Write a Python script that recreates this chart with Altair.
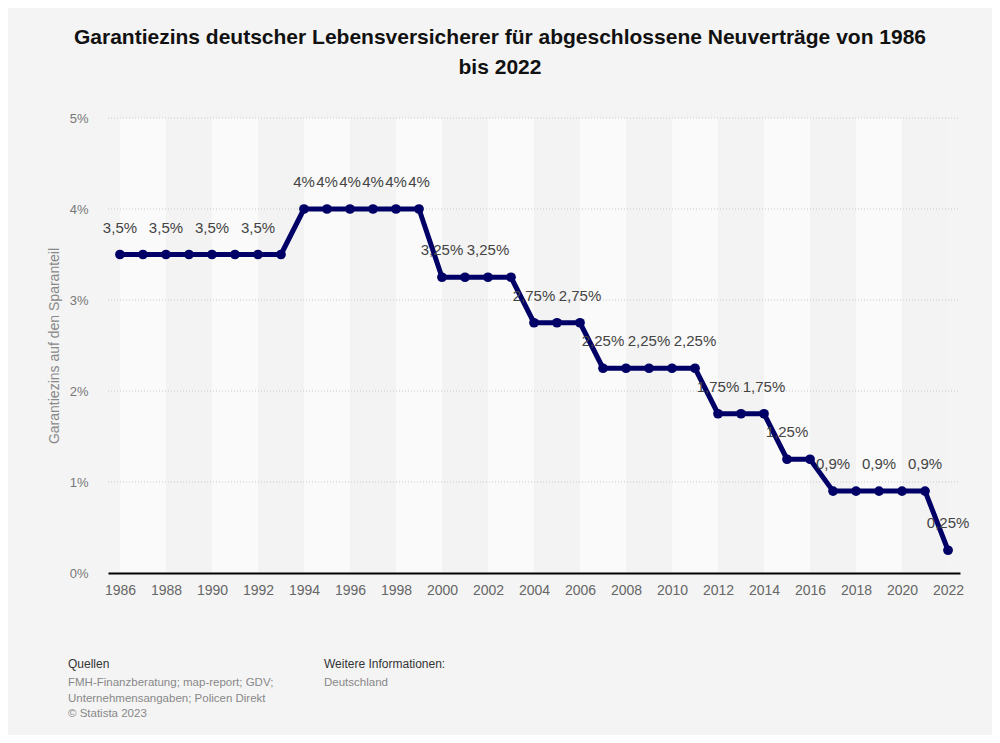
import altair as alt
import pandas as pd

years = list(range(1986, 2023))
values = [3.5, 3.5, 3.5, 3.5, 3.5, 3.5, 3.5, 3.5,
          4.0, 4.0, 4.0, 4.0, 4.0, 4.0,
          3.25, 3.25, 3.25, 3.25,
          2.75, 2.75, 2.75,
          2.25, 2.25, 2.25, 2.25, 2.25,
          1.75, 1.75, 1.75,
          1.25, 1.25,
          0.9, 0.9, 0.9, 0.9, 0.9,
          0.25]
show_label = [1, 0, 1, 0, 1, 0, 1, 0,
              1, 1, 1, 1, 1, 1,
              1, 0, 1, 0,
              1, 0, 1,
              1, 0, 1, 0, 1,
              1, 0, 1,
              1, 0,
              1, 0, 1, 0, 1,
              1]
x_ticks = list(range(1986, 2023, 2))
y_ticks = [0, 1, 2, 3, 4, 5]
grid_lines = [1, 2, 3, 4, 5]

title_lines = ["Garantiezins deutscher Lebensversicherer für abgeschlossene Neuverträge von 1986",
               "bis 2022"]
y_title = "Garantiezins auf den Sparanteil"
src_head = "Quellen"
src_body = "FMH-Finanzberatung; map-report; GDV;\nUnternehmensangaben; Policen Direkt\n© Statista 2023"
info_head = "Weitere Informationen:"
info_body = "Deutschland"

def fmt(v):
    return f"{v:g}".replace(".", ",") + "%"

df = pd.DataFrame({
    "Jahr": years,
    "Wert": values,
    "Label": [fmt(v) for v in values],
    "show": show_label,
})
labels_df = df[df["show"] == 1]

band_starts = list(range(1986, 2022, 2))
bands = pd.DataFrame({
    "start": band_starts,
    "end": [s + 2 for s in band_starts],
    "tone": ["hell" if i % 2 == 0 else "dunkel" for i in range(len(band_starts))],
})
grid_df = pd.DataFrame({"g": grid_lines})

W, H = 852, 455
xscale = alt.Scale(domain=[1985.48, 2022.52], nice=False, zero=False)
yscale = alt.Scale(domain=[0, 5], nice=False)
FONT = "Liberation Sans"

x_axis = alt.Axis(values=x_ticks, format="d", title=None, grid=False, ticks=False,
                  domain=True, domainColor="#000000", domainWidth=2, zindex=1,
                  labelColor="#666666", labelFontSize=14, labelFont=FONT,
                  labelPadding=10, labelFlush=False)
y_axis = alt.Axis(values=y_ticks, labelExpr="datum.value + '%'", title=y_title,
                  grid=False, ticks=False, domain=False,
                  labelColor="#777777", labelFontSize=13, labelFont=FONT, labelPadding=20,
                  titleColor="#888888", titleFontSize=14, titleFont=FONT,
                  titleFontWeight="normal", titlePadding=8)

band_layer = alt.Chart(bands).mark_rect().encode(
    x=alt.X("start:Q", scale=xscale, axis=x_axis),
    x2="end:Q",
    y=alt.value(0),
    y2=alt.value(H),
    color=alt.Color("tone:N", scale=alt.Scale(domain=["hell", "dunkel"], range=["#fafafa", "#f3f3f3"]), legend=None),
)

grid_layer = alt.Chart(grid_df).mark_rule(color="#c8c8c8", strokeDash=[1, 2], strokeWidth=1).encode(
    y=alt.Y("g:Q", scale=yscale, axis=y_axis),
    x=alt.value(0),
    x2=alt.value(W),
)

line_layer = alt.Chart(df).mark_line(color="#000066", strokeWidth=5, strokeJoin="round").encode(
    x=alt.X("Jahr:Q", scale=xscale),
    y=alt.Y("Wert:Q", scale=yscale),
)
point_layer = alt.Chart(df).mark_circle(color="#000066", size=95, opacity=1).encode(
    x=alt.X("Jahr:Q", scale=xscale),
    y=alt.Y("Wert:Q", scale=yscale),
)
text_layer = alt.Chart(labels_df).mark_text(
    dy=-27, fontSize=15, font=FONT, color="#444444", align="center", baseline="middle"
).encode(
    x=alt.X("Jahr:Q", scale=xscale),
    y=alt.Y("Wert:Q", scale=yscale),
    text="Label:N",
)

src_head_layer = alt.Chart(df.head(1)).mark_text(
    align="left", baseline="top", fontSize=12, font=FONT, color="#333333"
).encode(x=alt.value(-40), y=alt.value(541), text=alt.value(src_head))
src_body_layer = alt.Chart(df.head(1)).mark_text(
    align="left", baseline="top", fontSize=11.5, font=FONT, color="#888888",
    lineBreak="\n", lineHeight=15.5
).encode(x=alt.value(-40), y=alt.value(559), text=alt.value(src_body))
info_head_layer = alt.Chart(df.head(1)).mark_text(
    align="left", baseline="top", fontSize=12, font=FONT, color="#333333"
).encode(x=alt.value(216), y=alt.value(541), text=alt.value(info_head))
info_body_layer = alt.Chart(df.head(1)).mark_text(
    align="left", baseline="top", fontSize=11.5, font=FONT, color="#888888"
).encode(x=alt.value(216), y=alt.value(559), text=alt.value(info_body))

chart = alt.layer(
    band_layer, grid_layer, line_layer, point_layer, text_layer,
    src_head_layer, src_body_layer, info_head_layer, info_body_layer,
).properties(
    width=W, height=H,
    autosize=alt.AutoSizeParams(type="none"),
    padding={"left": 100, "top": 110, "right": 32, "bottom": 162},
    background="#f4f4f4",
    title=alt.TitleParams(
        text=title_lines, anchor="middle", dx=-34, offset=34,
        fontSize=21, font=FONT, fontWeight="bold", color="#111111", lineHeight=30,
    ),
).configure_view(stroke=None)

chart.save("out.html", embed_options={"renderer": "svg", "actions": False})
